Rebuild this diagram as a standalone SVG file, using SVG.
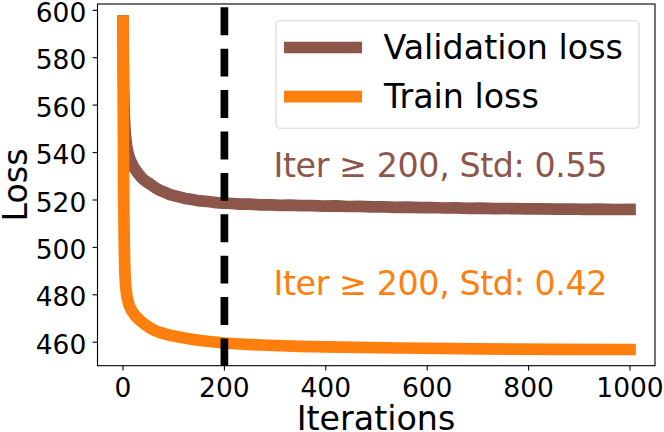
<svg xmlns="http://www.w3.org/2000/svg" width="664" height="432" viewBox="0 0 664 432">
<style>
  text { font-family: "DejaVu Sans", "Liberation Sans", sans-serif; }
  .tick { font-size: 26.5px; fill: #000; }
  .big { font-size: 33.3px; }
  .tk { stroke: #000; stroke-width: 1.1; }
  .curve { fill: none; stroke-width: 11.7; stroke-linejoin: round; stroke-linecap: square; }
</style>
<defs>
  <clipPath id="ax"><rect x="97.5" y="4" width="557.5" height="361.7"/></clipPath>
</defs>
<rect width="664" height="432" fill="#fff"/>

<g id="connectors" clip-path="url(#ax)">
  <path id="validation-curve" class="curve" stroke="#8c564b" d="M123,21 L123.5,80 L124.2,115 L125.2,133 L126.5,145 L128,153 L130,159.5 L133,166 L137,172 L141,177 L145,180.8 L150,184 L155,187.6 L160,190.3 L165,192.4 L170,194.6 L177,196.4 L185,198.4 L192,199.6 L200,200.9 L208,201.5 L216,202.6 L224,203.2 L232,203.5 L240,204.2 L250,204.2 L260,204.9 L270,204.8 L280,205.3 L290,205.1 L300,205.6 L312,205.6 L324,206.1 L336,205.9 L348,206.5 L360,206.4 L372,206.9 L384,206.8 L396,207.3 L408,207.1 L420,207.6 L432,207.5 L444,208 L456,207.8 L468,208.3 L480,208.2 L495,208.7 L510,208.5 L525,208.9 L540,208.8 L555,209.2 L570,209 L585,209.4 L600,209.2 L615,209.5 L630,209.4"/>
  <path id="train-curve" class="curve" stroke="#ff7f0e" d="M123,21 L123.3,120 L123.7,200 L124.3,245 L124.8,270 L125.5,285 L127,297 L129,305 L131.6,310.5 L135,315.5 L140,320.5 L145,324.5 L150,327.8 L155,330.6 L160,332.5 L170,335.3 L180,337.3 L190,339 L200,340.5 L212,341.8 L224,343 L240,344 L260,345 L300,346.3 L340,347.2 L400,348 L480,348.9 L560,349.3 L630,349.5"/>
  <line id="iter-200-marker" x1="224.4" y1="7.3" x2="224.4" y2="370" stroke="#000" stroke-width="7.7" stroke-dasharray="27.9 13.5"/>
</g>

<g id="axes">
  <rect x="97.5" y="4" width="557.5" height="361.7" fill="none" stroke="#000" stroke-width="1.1"/>
  <g id="yticks">
    <line class="tk" x1="92.6" y1="10.3" x2="97.5" y2="10.3"/>
    <line class="tk" x1="92.6" y1="57.7" x2="97.5" y2="57.7"/>
    <line class="tk" x1="92.6" y1="105.1" x2="97.5" y2="105.1"/>
    <line class="tk" x1="92.6" y1="152.6" x2="97.5" y2="152.6"/>
    <line class="tk" x1="92.6" y1="200" x2="97.5" y2="200"/>
    <line class="tk" x1="92.6" y1="247.4" x2="97.5" y2="247.4"/>
    <line class="tk" x1="92.6" y1="294.8" x2="97.5" y2="294.8"/>
    <line class="tk" x1="92.6" y1="342.2" x2="97.5" y2="342.2"/>
    <text class="tick" x="86.3" y="21.8" text-anchor="end">600</text>
    <text class="tick" x="86.3" y="69.2" text-anchor="end">580</text>
    <text class="tick" x="86.3" y="116.6" text-anchor="end">560</text>
    <text class="tick" x="86.3" y="164.1" text-anchor="end">540</text>
    <text class="tick" x="86.3" y="211.5" text-anchor="end">520</text>
    <text class="tick" x="86.3" y="258.9" text-anchor="end">500</text>
    <text class="tick" x="86.3" y="306.3" text-anchor="end">480</text>
    <text class="tick" x="86.3" y="353.7" text-anchor="end">460</text>
  </g>
  <g id="xticks">
    <line class="tk" x1="123" y1="365.7" x2="123" y2="370.6"/>
    <line class="tk" x1="224.4" y1="365.7" x2="224.4" y2="370.6"/>
    <line class="tk" x1="325.8" y1="365.7" x2="325.8" y2="370.6"/>
    <line class="tk" x1="427.2" y1="365.7" x2="427.2" y2="370.6"/>
    <line class="tk" x1="528.6" y1="365.7" x2="528.6" y2="370.6"/>
    <line class="tk" x1="630" y1="365.7" x2="630" y2="370.6"/>
    <text class="tick" x="123" y="396.5" text-anchor="middle">0</text>
    <text class="tick" x="224.4" y="396.5" text-anchor="middle">200</text>
    <text class="tick" x="325.8" y="396.5" text-anchor="middle">400</text>
    <text class="tick" x="427.2" y="396.5" text-anchor="middle">600</text>
    <text class="tick" x="528.6" y="396.5" text-anchor="middle">800</text>
    <text class="tick" x="630" y="396.5" text-anchor="middle">1000</text>
  </g>
  <text id="xlabel" class="big" x="376" y="429.5" text-anchor="middle">Iterations</text>
  <text id="ylabel" class="big" transform="translate(26.5,185) rotate(-90)" text-anchor="middle">Loss</text>
</g>

<g id="legend">
  <rect x="276" y="20.7" width="363" height="107.6" rx="4" fill="#fff" fill-opacity="0.8" stroke="#cccccc" stroke-opacity="0.8" stroke-width="1.1"/>
  <line x1="284" y1="47.5" x2="362" y2="47.5" stroke="#8c564b" stroke-width="11.7"/>
  <line x1="284" y1="96.7" x2="362" y2="96.7" stroke="#ff7f0e" stroke-width="11.7"/>
  <text class="big" x="383.5" y="59.3">Validation loss</text>
  <text class="big" x="384" y="108.3">Train loss</text>
</g>

<g id="annotations">
  <text id="val-std" class="big" x="273.5" y="177" fill="#8c564b" textLength="334" lengthAdjust="spacing">Iter ≥ 200, Std: 0.55</text>
  <text id="train-std" class="big" x="273.5" y="295" fill="#ff7f0e" textLength="334" lengthAdjust="spacing">Iter ≥ 200, Std: 0.42</text>
</g>
</svg>
